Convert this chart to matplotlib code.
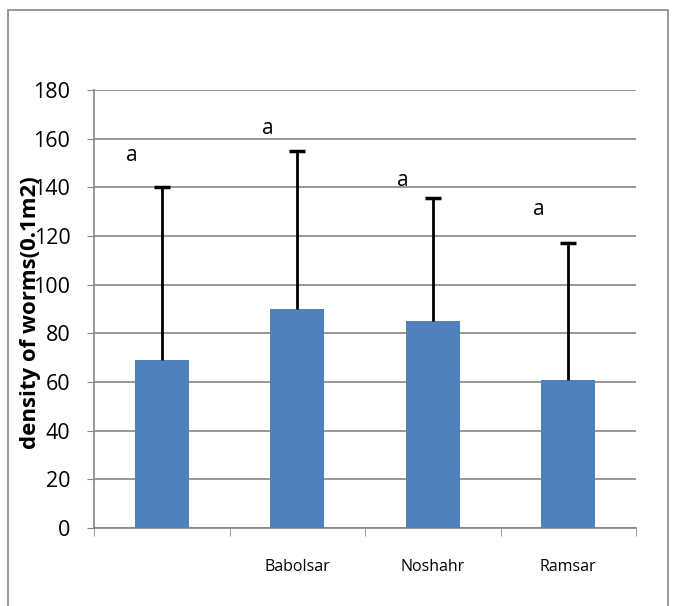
import matplotlib
matplotlib.use("Agg")
import matplotlib.pyplot as plt
import numpy as np
from matplotlib.patches import Rectangle

plt.rcParams['font.family'] = ['Open Sans', 'DejaVu Sans']

# data
sites = ["", "Babolsar", "Noshahr", "Ramsar"]
means = [69, 90, 85, 61]
err_up = [71, 65, 50.5, 56]
letters = ["a", "a", "a", "a"]
letter_y = [153, 164, 143, 131]

fig = plt.figure(figsize=(6.75, 6.06), dpi=100)
ax = fig.add_axes([94 / 675, 78 / 606, (636 - 94) / 675, 438 / 606])

x = np.arange(len(sites))
tops = np.array(means) + np.array(err_up)
ax.bar(x, means, width=0.4, color="#4f81bd", zorder=3)
ax.vlines(x, means, tops, color="black", linewidth=2, zorder=4)
ax.plot(x, tops, linestyle="none", marker="_", markersize=11,
        markeredgewidth=2.5, color="black", zorder=4)
for i, (t, yy) in enumerate(zip(letters, letter_y)):
    ax.text(i - 0.22, yy, t, fontsize=15, ha="center", va="center")

ax.set_xlim(-0.5, len(sites) - 0.5)
ax.set_ylim(0, 180)
ax.set_yticks(range(0, 181, 20))
ax.tick_params(axis="y", labelsize=15.5, length=5, color="#868686", pad=12)
ax.set_xticks(x)
ax.set_xticklabels(sites, fontsize=11.5)
ax.tick_params(axis="x", length=0, pad=22)
ax.set_xticks(np.arange(-0.5, len(sites)), minor=True)
ax.tick_params(axis="x", which="minor", length=6, color="#868686")
ax.yaxis.grid(True, color="#868686", linewidth=1.2, zorder=0)
for s in ["top", "right"]:
    ax.spines[s].set_visible(False)
ax.spines["left"].set_color("#868686")
ax.spines["bottom"].set_color("#868686")
ax.spines["left"].set_linewidth(1.2)
ax.spines["bottom"].set_linewidth(1.2)

fig.text(31 / 675, 1 - 313 / 606, "density of worms(0.1m2)", rotation=90,
         fontsize=16, fontweight="bold", ha="center", va="center")

fig.patches.append(Rectangle((8 / 675, -0.01), (668 - 8) / 675, 1 - 10 / 606 + 0.01,
                             transform=fig.transFigure, fill=False,
                             edgecolor="#868686", linewidth=1.2))

fig.savefig("out.png", dpi=100)
